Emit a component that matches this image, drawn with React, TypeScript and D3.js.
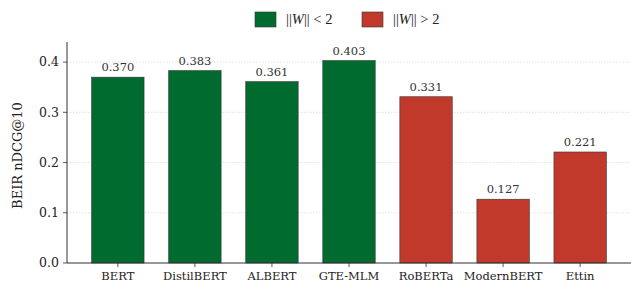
import * as d3 from 'd3'

const width = 631
const height = 286
const marginTop = 42
const marginRight = 0
const marginBottom = 23
const marginLeft = 67

const models = ['BERT', 'DistilBERT', 'ALBERT', 'GTE-MLM', 'RoBERTa', 'ModernBERT', 'Ettin']
const scores = [0.37, 0.383, 0.361, 0.403, 0.331, 0.127, 0.221]
const groups = ['low', 'low', 'low', 'low', 'high', 'high', 'high']
const yTicks = [0.0, 0.1, 0.2, 0.3, 0.4]

const green = '#006b2f'
const red = '#c0392b'
const font = "'DejaVu Serif', serif"
const mathFont = "'Liberation Serif', serif"

export default function App() {
  // positions via a linear index scale, matplotlib style (-0.66 .. n-0.34)
  const x = d3.scaleLinear([-0.66, models.length - 0.34], [marginLeft, width - marginRight])
  const y = d3.scaleLinear([0, 0.44], [height - marginBottom, marginTop])
  const barW = x(0.68) - x(0)
  const color = (g: string) => (g === 'low' ? green : red)

  return (
    <svg
      width={width}
      height={height}
      viewBox={`0 0 ${width} ${height}`}
      fontFamily={font}
      style={{ position: 'absolute', left: 0, top: 0 }}
    >
      {/* grid */}
      {yTicks.slice(1).map(t => (
        <line key={t} x1={marginLeft} x2={width - marginRight} y1={y(t)} y2={y(t)}
          stroke="#cccccc" strokeWidth={0.6} strokeDasharray="1.5,1.5" />
      ))}

      {/* bars */}
      {scores.map((v, i) => (
        <g key={models[i]}>
          <rect x={x(i) - barW / 2} y={y(v)} width={barW} height={y(0) - y(v)}
            fill={color(groups[i])} stroke="#333" strokeWidth={0.6} />
          <text x={x(i)} y={y(v) - 6} textAnchor="middle" fontSize={11.5} fill="#333">
            {v.toFixed(3)}
          </text>
        </g>
      ))}

      {/* axes */}
      <line x1={marginLeft} x2={marginLeft} y1={marginTop} y2={y(0)} stroke="#333" strokeWidth={1} />
      <line x1={marginLeft} x2={width - marginRight} y1={y(0)} y2={y(0)} stroke="#333" strokeWidth={1} />
      {yTicks.map(t => (
        <g key={t}>
          <line x1={marginLeft - 4} x2={marginLeft} y1={y(t)} y2={y(t)} stroke="#333" strokeWidth={0.8} />
          <text x={marginLeft - 8} y={y(t)} dy="0.35em" textAnchor="end" fontSize={12.5} fill="#222">
            {t.toFixed(1)}
          </text>
        </g>
      ))}
      {models.map((m, i) => (
        <g key={m}>
          <line x1={x(i)} x2={x(i)} y1={y(0)} y2={y(0) + 4} stroke="#333" strokeWidth={0.8} />
          <text x={x(i)} y={y(0) + 17} textAnchor="middle" fontSize={11.5} fill="#222">{m}</text>
        </g>
      ))}
      <text transform={`translate(22,${(marginTop + y(0)) / 2 + 3}) rotate(-90)`} textAnchor="middle"
        fontSize={13} fill="#222">BEIR nDCG@10</text>

      {/* legend */}
      <rect x={255} y={12} width={21} height={15} fill={green} stroke="#333" strokeWidth={0.6} />
      <text x={286} y={24} fontSize={14.5} fill="#222" fontFamily={mathFont}>
        ||<tspan fontStyle="italic">W</tspan>|| &lt; 2
      </text>
      <rect x={362} y={12} width={21} height={15} fill={red} stroke="#333" strokeWidth={0.6} />
      <text x={393} y={24} fontSize={14.5} fill="#222" fontFamily={mathFont}>
        ||<tspan fontStyle="italic">W</tspan>|| &gt; 2
      </text>
    </svg>
  )
}
